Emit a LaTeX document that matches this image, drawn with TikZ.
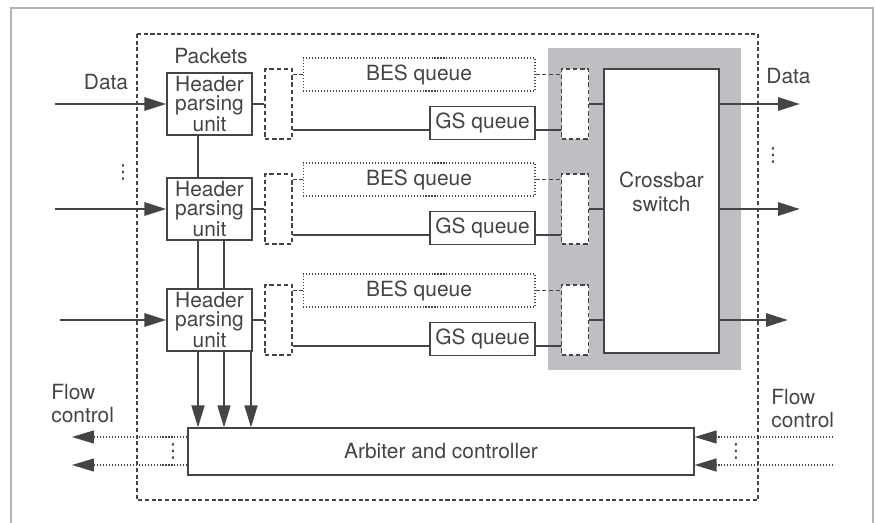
\documentclass[tikz,border=0pt]{standalone}
\usepackage{fontspec}
\setmainfont{TeX Gyre Heros}
\newfontfamily\dotfont{DejaVu Sans}
\usetikzlibrary{arrows.meta,positioning}

\definecolor{ink}{HTML}{444444}
\definecolor{panel}{HTML}{BEBFC3}
\definecolor{pageline}{HTML}{B4B4B4}

\tikzset{
  hpu/.style={draw=ink, line width=0.7pt, fill=white, align=center, inner sep=0pt,
    minimum width=1.7cm, minimum height=1.24cm, font=\fontsize{11.9}{10.4}\selectfont},
  buf/.style={draw=ink, line width=0.7pt, dash pattern=on 2.5pt off 1.6pt, fill=white,
    inner sep=0pt, minimum width=0.54cm, minimum height=1.4cm},
  besq/.style={draw=ink, line width=0.6pt, dash pattern=on 0.6pt off 1.1pt, inner sep=0pt,
    minimum width=4.64cm, minimum height=0.66cm},
  gsq/.style={draw=ink, line width=0.7pt, fill=white, inner sep=0pt,
    minimum width=2.1cm, minimum height=0.66cm},
  data/.style={draw=ink, line width=1.7pt},
  wire/.style={draw=ink, line width=1.5pt},
  tap/.style={draw=ink, line width=1.1pt, dash pattern=on 2.4pt off 1.4pt},
  link/.style={draw=ink, line width=0.9pt},
  flow/.style={draw=ink, line width=0.7pt, dash pattern=on 0.6pt off 1.1pt},
  lbl/.style={inner sep=0pt, align=left},
  vdot/.style={inner sep=0pt, font=\dotfont\fontsize{11}{11}\selectfont}
}

\begin{document}
\begin{tikzpicture}[x=0.02cm, y=-0.02cm, >={Triangle[length=0.44cm,width=0.26cm]},
  font=\fontsize{11.9}{13.3}\selectfont, every node/.append style={text=ink}]
\useasboundingbox (0,0) rectangle (875,523);

% page frame and outer boundary
\draw[pageline, line width=0.04cm] (11,523) -- (11,8) -- (873,8) -- (873,523);
\draw[ink, line width=0.6pt, dash pattern=on 2.3pt off 1.5pt] (137,34) rectangle (758,500);

% switch area
\fill[panel] (548,48) rectangle (741,370);
\node[draw=ink, line width=0.7pt, fill=white, minimum width=2.3cm, minimum height=5.68cm] (xbar) at (661.5,211) {};
\node[align=center] (xbarlbl) at (661.5,192) {Crossbar\\switch};

% arbiter
\node[draw=ink, line width=0.7pt, fill=white, minimum width=10.12cm, minimum height=0.94cm] (arb) at (441,451.5) {Arbiter and controller};

% three input lanes
\foreach \i/\y/\xin/\xout in {1/104/55/800, 2/209/55/800, 3/320/60/788} {
  \node[hpu] (hp\i) at (209.5,\y) {Header\\parsing\\unit};
  \node[buf] (dl\i) at (278.5,\y) {};
  \node[besq] (bes\i) at (419,{\y-29.5}) {BES queue};
  \node[gsq] (gs\i) at (482.5,{\y+19}) {GS queue};
  \node[buf] (mx\i) at (575,\y) {};
  \coordinate (in\i) at (\xin,\y);
  \coordinate (out\i) at (\xout,\y);
  \draw[data,->] (in\i) -- (hp\i.west);
  \draw[wire] (hp\i.east) -- (dl\i.west);
  \draw[tap] (dl\i.east |- bes\i.west) -- (bes\i.west);
  \draw[tap] (bes\i.east) -- (mx\i.west |- bes\i.east);
  \draw[wire] ([yshift=-0.14cm]gs\i.west) -- ([yshift=-0.14cm]gs\i.west -| dl\i.east);
  \draw[wire] ([yshift=-0.14cm]gs\i.east) -- ([yshift=-0.14cm]gs\i.east -| mx\i.west);
  \draw[wire] (mx\i.east) -- (mx\i.east -| xbar.west);
  \draw[data,->] (mx\i.east -| xbar.east) -- (out\i);
}

% links between parsing units and to the arbiter
\draw[link] ([xshift=-0.23cm]hp1.south) -- ([xshift=-0.23cm]hp2.north);
\draw[link] ([xshift=-0.23cm]hp2.south) -- ([xshift=-0.23cm]hp3.north);
\draw[link] ([xshift=0.29cm]hp2.south) -- ([xshift=0.29cm]hp3.north);
\foreach \dx in {-0.23,0.29,0.83}
  \draw[link,->] ([xshift=\dx cm]hp3.south) -- ([xshift=\dx cm]hp3.south |- arb.north);

% flow control
\coordinate (fl1) at (72,437);
\coordinate (fl2) at (72,465);
\coordinate (fr1) at (833,437);
\coordinate (fr2) at (833,465);
\draw[flow,->] (arb.west |- fl1) -- (fl1);
\draw[flow,->] (arb.west |- fl2) -- (fl2);
\draw[flow,->] (fr1) -- (arb.east |- fr1);
\draw[flow,->] (fr2) -- (arb.east |- fr2);

% labels
\node[lbl] (datain) at (106,82.5) {Data};
\node[lbl] (packets) at (211,56.5) {Packets};
\node[lbl] (dataout) at (788.5,76.5) {Data};
\node[lbl, anchor=north west] (flowl) at (51,384) {Flow\\control};
\node[lbl, anchor=north west] (flowr) at (771,389) {Flow\\control};
\node[vdot] (dotsin) at (123,172) {⋮};
\node[vdot] (dotsout) at (773,155) {⋮};
\node[vdot] (dotsfl) at (173,451) {⋮};
\node[vdot] (dotsfr) at (736,451) {⋮};
\end{tikzpicture}
\end{document}
